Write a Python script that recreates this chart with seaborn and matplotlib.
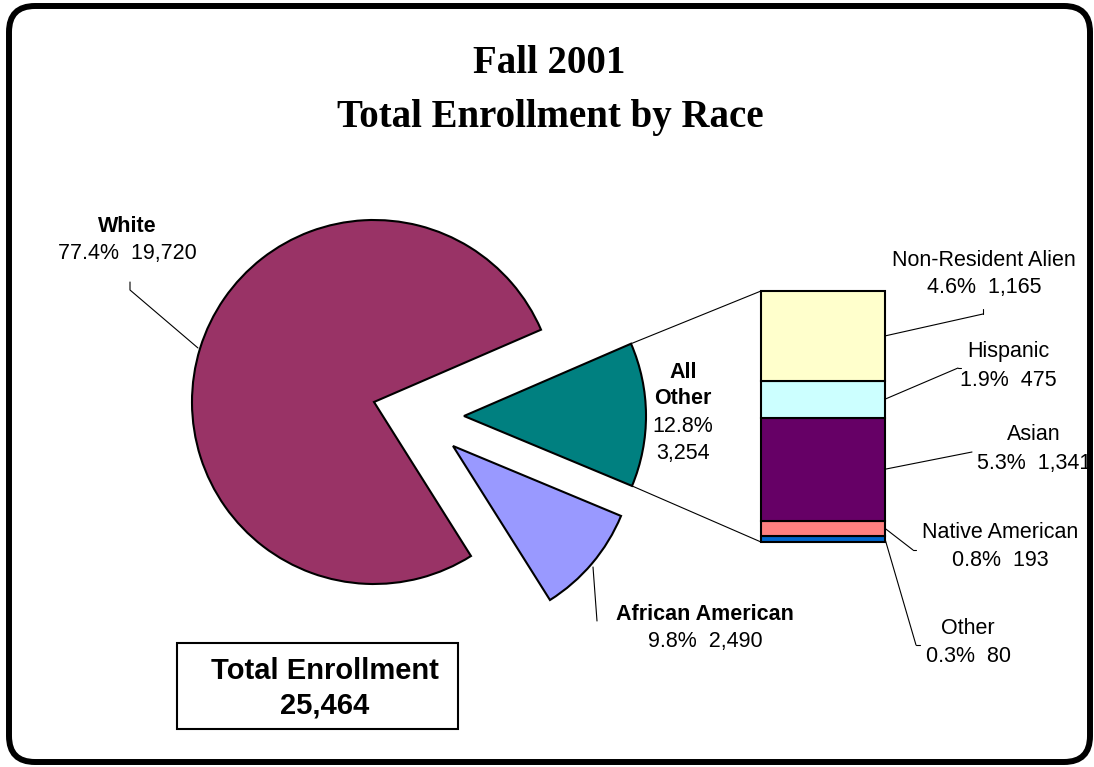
import matplotlib
matplotlib.use("Agg")
import matplotlib.pyplot as plt
from matplotlib.patches import FancyBboxPatch, Rectangle, ConnectionPatch
import numpy as np
import seaborn as sns

sns.set_style("white")
plt.rcParams['font.family'] = ['Liberation Sans', 'DejaVu Sans']
plt.rcParams['text.color'] = 'black'

# pie part (counterclockwise from the right side)
pie_labels = ['All Other', 'White', 'African American']
pie_values = [3254, 19720, 2490]
pie_colors = ['#008080', '#993366', '#9999FF']

# bar part ("All Other" broken down, bottom to top)
bar_labels = ['Other', 'Native American', 'Asian', 'Hispanic', 'Non-Resident Alien']
bar_values = [80, 193, 1341, 475, 1165]
bar_colors = ['#0066CC', '#FF8080', '#660066', '#CCFFFF', '#FFFFCC']

total = sum(pie_values)

W, H = 1094, 767


def Y(y):
    # image y (top down) -> axes y (bottom up)
    return H - y


fig = plt.figure(figsize=(W / 100, H / 100), dpi=100)
ax = fig.add_axes([0, 0, 1, 1])

wedges, _ = ax.pie(pie_values, colors=pie_colors, startangle=-22.6, counterclock=True,
                   radius=182, center=(374, Y(402)),
                   wedgeprops=dict(edgecolor='black', linewidth=1.5))
# exploded slices
wedges[0].set_center((464, Y(416)))
wedges[2].set_center((453, Y(446)))

ax.set_xlim(0, W)
ax.set_ylim(0, H)
ax.set_aspect('auto')
ax.axis('off')

# outer rounded frame
ax.add_patch(FancyBboxPatch((9, Y(762)), 1081, 756,
                            boxstyle="round,pad=0,rounding_size=26",
                            fill=False, edgecolor='black', linewidth=4.3))

# titles
ax.text(549, Y(73), 'Fall 2001', ha='center', va='baseline', fontsize=28,
        fontweight='bold', family='Liberation Serif')
ax.text(550, Y(127), 'Total Enrollment by Race', ha='center', va='baseline', fontsize=28,
        fontweight='bold', family='Liberation Serif')

fs = 15.5


def pct(v):
    return f"{v / total * 100:.1f}%  {v:,}"


# pie labels
ax.text(127, Y(226), pie_labels[1], ha='center', va='center', fontsize=fs, fontweight='bold')
ax.text(127, Y(253), pct(pie_values[1]), ha='center', va='center', fontsize=fs)
ax.plot([130, 130, 198], [Y(282), Y(290), Y(348)], color='black', lw=0.8)

ax.text(683, Y(372), pie_labels[0].split()[0], ha='center', va='center', fontsize=fs, fontweight='bold')
ax.text(683, Y(399), pie_labels[0].split()[1], ha='center', va='center', fontsize=fs, fontweight='bold')
ax.text(683, Y(426), f"{pie_values[0] / total * 100:.1f}%", ha='center', va='center', fontsize=fs)
ax.text(683, Y(453), f"{pie_values[0]:,}", ha='center', va='center', fontsize=fs)

ax.text(705, Y(615), pie_labels[2], ha='center', va='center', fontsize=fs, fontweight='bold')
ax.text(705, Y(642), pct(pie_values[2]), ha='center', va='center', fontsize=fs)
ax.plot([593, 597], [Y(567), Y(621)], color='black', lw=0.8)

# total box
ax.add_patch(Rectangle((177, Y(729)), 281, 86, fill=False, edgecolor='black', linewidth=1.5))
ax.text(325, Y(679), 'Total Enrollment', ha='center', va='baseline', fontsize=21, fontweight='bold')
ax.text(325, Y(713), f"{total:,}", ha='center', va='baseline', fontsize=21, fontweight='bold')

# stacked bar
ax2 = fig.add_axes([761 / W, Y(542) / H, 124 / W, 251 / H])
bottom = 0
mids = []
for v, c in zip(bar_values, bar_colors):
    ax2.bar(0, v, bottom=bottom, width=1, color=c, edgecolor='black', linewidth=1.5, clip_on=False)
    mids.append(bottom + v / 2)
    bottom += v
ax2.set_xlim(-0.5, 0.5)
ax2.set_ylim(0, bottom)
ax2.axis('off')

# connector lines from the "All Other" slice to the bar
w = wedges[0]
cx, cy = w.center
for th, by in [(w.theta2, bottom), (w.theta1, 0)]:
    p = (cx + w.r * np.cos(np.radians(th)), cy + w.r * np.sin(np.radians(th)))
    fig.add_artist(ConnectionPatch(xyA=p, coordsA=ax.transData, xyB=(-0.5, by),
                                   coordsB=ax2.transData, color='black', lw=0.8))

# bar labels: (label x, first line y, leader end points)
bar_label_pos = {
    'Non-Resident Alien': (984, 260, [(983, 314), (983, 309)]),
    'Hispanic': (1008, 352, [(958, 368), (961, 368)]),
    'Asian': (1034, 435, [(972, 452)]),
    'Native American': (1000, 533, [(913, 550), (916, 550)]),
    'Other': (968, 628, [(916, 645), (920, 645)]),
}
for lab, v, m in zip(bar_labels, bar_values, mids):
    lx, ly, pts = bar_label_pos[lab]
    ax.text(lx, Y(ly), lab, ha='center', va='center', fontsize=fs)
    ax.text(lx, Y(ly + 28), pct(v), ha='center', va='center', fontsize=fs)
    fig.add_artist(ConnectionPatch(xyA=(0.5, m), coordsA=ax2.transData,
                                   xyB=(pts[0][0], Y(pts[0][1])), coordsB=ax.transData,
                                   color='black', lw=0.8))
    if len(pts) > 1:
        ax.plot([p[0] for p in pts], [Y(p[1]) for p in pts], color='black', lw=0.8)

fig.savefig('out.png', dpi=100)
